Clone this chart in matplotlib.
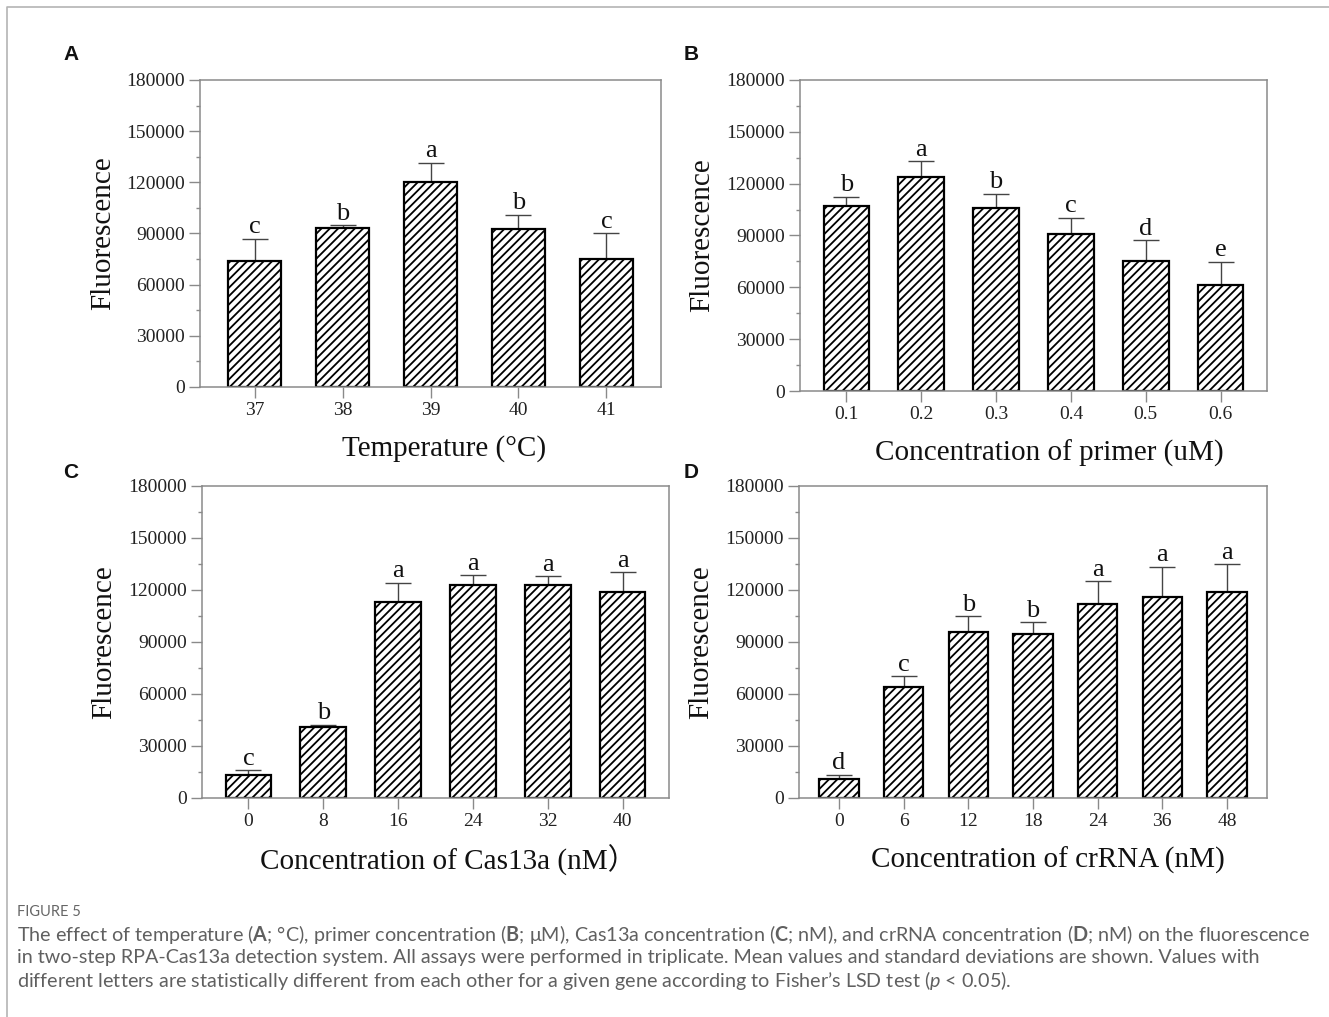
import numpy as np
import matplotlib.pyplot as plt
from matplotlib.lines import Line2D
from matplotlib.ticker import MultipleLocator, StrMethodFormatter

# Panel A - temperature
temp_labels = ["37", "38", "39", "40", "41"]
temp_mean = [74000, 93000, 120000, 92800, 75000]
temp_err = [13000, 1800, 11500, 8200, 15000]
temp_letters = ["c", "b", "a", "b", "c"]

# Panel B - primer concentration
primer_labels = ["0.1", "0.2", "0.3", "0.4", "0.5", "0.6"]
primer_mean = [107000, 124000, 106200, 91000, 75500, 61600]
primer_err = [5500, 8900, 7900, 9400, 11800, 13100]
primer_letters = ["b", "a", "b", "c", "d", "e"]

# Panel C - Cas13a concentration
cas_labels = ["0", "8", "16", "24", "32", "40"]
cas_mean = [13000, 41000, 113300, 123100, 122700, 119000]
cas_err = [3000, 1300, 11000, 5400, 5200, 11300]
cas_letters = ["c", "b", "a", "a", "a", "a"]

# Panel D - crRNA concentration
crrna_labels = ["0", "6", "12", "18", "24", "36", "48"]
crrna_mean = [11000, 64000, 95600, 94600, 111900, 116200, 119000]
crrna_err = [2300, 6100, 9200, 6900, 13100, 17100, 15800]
crrna_letters = ["d", "c", "b", "b", "a", "a", "a"]

plt.rcParams["hatch.linewidth"] = 1.3
plt.rcParams["mathtext.fontset"] = "custom"
plt.rcParams["mathtext.rm"] = "Lato"
plt.rcParams["mathtext.bf"] = "Lato:bold"
plt.rcParams["mathtext.it"] = "Lato:italic"

serif = "Liberation Serif"
spine_col = "#8a8a8a"

W, H = 1329, 1017
fig = plt.figure(figsize=(W / 100, H / 100), dpi=100)


def px_axes(left, right, top, bottom):
    # axes box given in pixel coords of the final picture
    return fig.add_axes([left / W, 1 - bottom / H, (right - left) / W, (bottom - top) / H])


def draw_panel(ax, labels, mean, err, letters, xlabel, xlabel_x):
    x = np.arange(len(labels))
    ax.errorbar(x, mean, yerr=[np.zeros(len(err)), err], fmt="none", ecolor="#444444",
                elinewidth=1.0, capsize=9.5, capthick=1.0, zorder=1)
    ax.bar(x, mean, width=0.61, color="white", edgecolor="black", linewidth=1.6,
           hatch="////", zorder=2)
    for xi, m, e, let in zip(x, mean, err, letters):
        ax.annotate(let, (xi, m + e), xytext=(0, 4), textcoords="offset points",
                    ha="center", va="baseline", fontsize=19, family=serif, color="#111111")

    ax.set_xlim(-0.62, len(labels) - 1 + 0.62)
    ax.set_ylim(0, 180000)
    ax.set_xticks(x)
    ax.set_xticklabels(labels)
    ax.yaxis.set_major_locator(MultipleLocator(30000))
    ax.yaxis.set_minor_locator(MultipleLocator(15000))
    ax.yaxis.set_major_formatter(StrMethodFormatter("{x:.0f}"))

    for sp in ax.spines.values():
        sp.set_color(spine_col)
        sp.set_linewidth(1.1)
    ax.tick_params(axis="both", which="major", direction="out", length=8, width=1.0,
                   color=spine_col, labelsize=14, labelcolor="#222222", pad=3)
    ax.tick_params(axis="y", which="minor", direction="out", length=3, width=1.0, color=spine_col)
    ax.tick_params(axis="x", which="minor", bottom=False)
    for lab in ax.get_xticklabels() + ax.get_yticklabels():
        lab.set_family(serif)

    ax.set_ylabel("Fluorescence", fontsize=21, family=serif, va="center", color="#111111")
    ax.yaxis.set_label_coords(-0.21, 0.5)
    ax.set_xlabel(xlabel, fontsize=21, family=[serif, "Noto Sans CJK SC"], va="center",
                  color="#111111")
    ax.xaxis.set_label_coords(xlabel_x, -0.2)


axA = px_axes(200, 661, 80, 387)
draw_panel(axA, temp_labels, temp_mean, temp_err, temp_letters, "Temperature (°C)", 0.53)

axB = px_axes(800, 1267, 80, 391)
draw_panel(axB, primer_labels, primer_mean, primer_err, primer_letters,
           "Concentration of primer (uM)", 0.534)

axC = px_axes(202, 669, 486, 798)
draw_panel(axC, cas_labels, cas_mean, cas_err, cas_letters,
           "Concentration of Cas13a (nM\uff09", 0.527)

axD = px_axes(799, 1267, 486, 798)
draw_panel(axD, crrna_labels, crrna_mean, crrna_err, crrna_letters,
           "Concentration of crRNA (nM)", 0.532)

# panel letters
for letter, (px, py) in zip("ABCD", [(71, 55), (691, 55), (71, 472), (691, 472)]):
    fig.text(px / W, 1 - py / H, letter, fontsize=15, fontweight="bold",
             family="Liberation Sans", ha="center", va="center", color="#111111")

# thin page frame (top and left)
fig.add_artist(Line2D([7 / W, 7 / W, 1], [0, 1 - 7 / H, 1 - 7 / H], color="#b4b4b4",
                      linewidth=1.2, transform=fig.transFigure))

# caption
cap_col = "#606060"
fig.text(17 / W, 1 - 912 / H, "FIGURE 5", fontsize=10.5, family="Lato", color="#666666",
         va="center")
cap_lines = [
    r"The effect of temperature ($\mathbf{A}$; °C), primer concentration ($\mathbf{B}$; μM), "
    r"Cas13a concentration ($\mathbf{C}$; nM), and crRNA concentration ($\mathbf{D}$; nM) on the fluorescence",
    "in two-step RPA-Cas13a detection system. All assays were performed in triplicate. "
    "Mean values and standard deviations are shown. Values with",
    r"different letters are statistically different from each other for a given gene "
    r"according to Fisher’s LSD test ($\mathit{p}$ < 0.05).",
]
cap_texts = []
for line, py in zip(cap_lines, [935, 958, 980]):
    cap_texts.append(fig.text(17 / W, 1 - py / H, line, fontsize=13, family="Lato",
                              color=cap_col, va="center"))

# fit caption width to the reference (first line ends near x=1307)
fig.canvas.draw()
renderer = fig.canvas.get_renderer()
w1 = cap_texts[0].get_window_extent(renderer).width
new_size = 13 * 1290 / w1
for t in cap_texts:
    t.set_fontsize(new_size)

fig.savefig("out.png", dpi=100)
